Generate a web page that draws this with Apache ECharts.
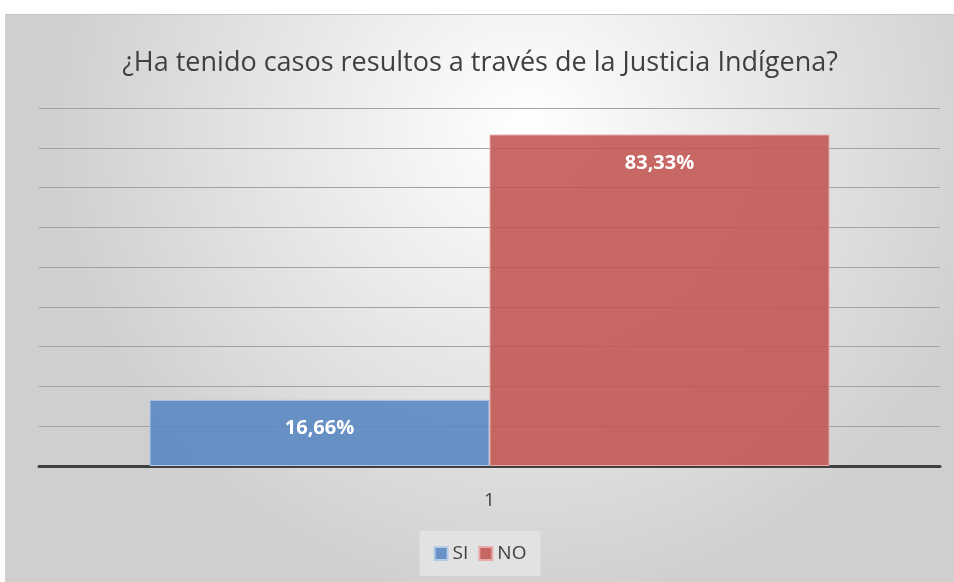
<!DOCTYPE html>
<html>
<head>
<meta charset="utf-8">
<script src="https://cdn.jsdelivr.net/npm/echarts@6/dist/echarts.min.js"></script>
<style>
  html, body { margin: 0; padding: 0; background: #ffffff; }
  #chart {
    position: absolute; left: 5px; top: 14px; width: 949px; height: 568px;
    border-top: 1px solid #c4c4c4; border-left: 1px solid #d0d0d0; box-sizing: border-box;
  }
</style>
</head>
<body>
<div id="chart"></div>
<script>
// chart data
var categories = ['1'];
var seriesNames = ['SI', 'NO'];
var siValues = [0.1666];
var noValues = [0.8333];
var yMax = 0.9;
var yStep = 0.1;

function pct(p) {
  return (p.value * 100).toFixed(2).replace('.', ',') + '%';
}

var chart = echarts.init(document.getElementById('chart'));
var barLabel = {
  show: true,
  position: 'insideTop',
  distance: 19,
  color: '#ffffff',
  fontWeight: 'bold',
  fontSize: 20,
  fontFamily: 'Open Sans',
  formatter: pct
};

chart.setOption({
  animation: false,
  backgroundColor: {
    type: 'radial', x: 0.55, y: 0.2, r: 0.85,
    colorStops: [
      { offset: 0, color: '#ffffff' },
      { offset: 1, color: '#cfcfcf' }
    ]
  },
  title: {
    text: '¿Ha tenido casos resultos a través de la Justicia Indígena?',
    left: 'center',
    top: 30,
    textStyle: { fontFamily: 'Open Sans', fontWeight: 'normal', fontSize: 27, color: '#404040' }
  },
  legend: {
    bottom: 6,
    left: 'center',
    icon: 'rect',
    itemWidth: 13,
    itemHeight: 13,
    itemGap: 10,
    padding: [13, 14, 13, 14],
    backgroundColor: '#e2e2e2',
    textStyle: { fontFamily: 'Open Sans', fontSize: 19, color: '#404040' },
    data: seriesNames
  },
  grid: { left: 33, right: 14, top: 93, bottom: 116 },
  xAxis: {
    type: 'category',
    data: categories,
    axisLine: { lineStyle: { color: '#404040', width: 3 } },
    axisTick: { show: false },
    axisLabel: { color: '#404040', fontSize: 19, fontFamily: 'Open Sans', margin: 25 }
  },
  yAxis: {
    type: 'value',
    min: 0,
    max: yMax,
    interval: yStep,
    axisLabel: { show: false },
    axisLine: { show: false },
    axisTick: { show: false },
    splitLine: { lineStyle: { color: '#a2a2a2', width: 1 } }
  },
  series: [
    {
      name: seriesNames[0],
      type: 'bar',
      data: siValues,
      barWidth: 340,
      barGap: '0%',
      itemStyle: { color: 'rgba(86,133,192,0.88)', borderColor: '#b4cbe8', borderWidth: 1 },
      label: barLabel
    },
    {
      name: seriesNames[1],
      type: 'bar',
      data: noValues,
      barWidth: 340,
      barGap: '0%',
      itemStyle: { color: 'rgba(194,84,81,0.88)', borderColor: '#e6aaa8', borderWidth: 1 },
      label: barLabel
    }
  ]
});
</script>
</body>
</html>
